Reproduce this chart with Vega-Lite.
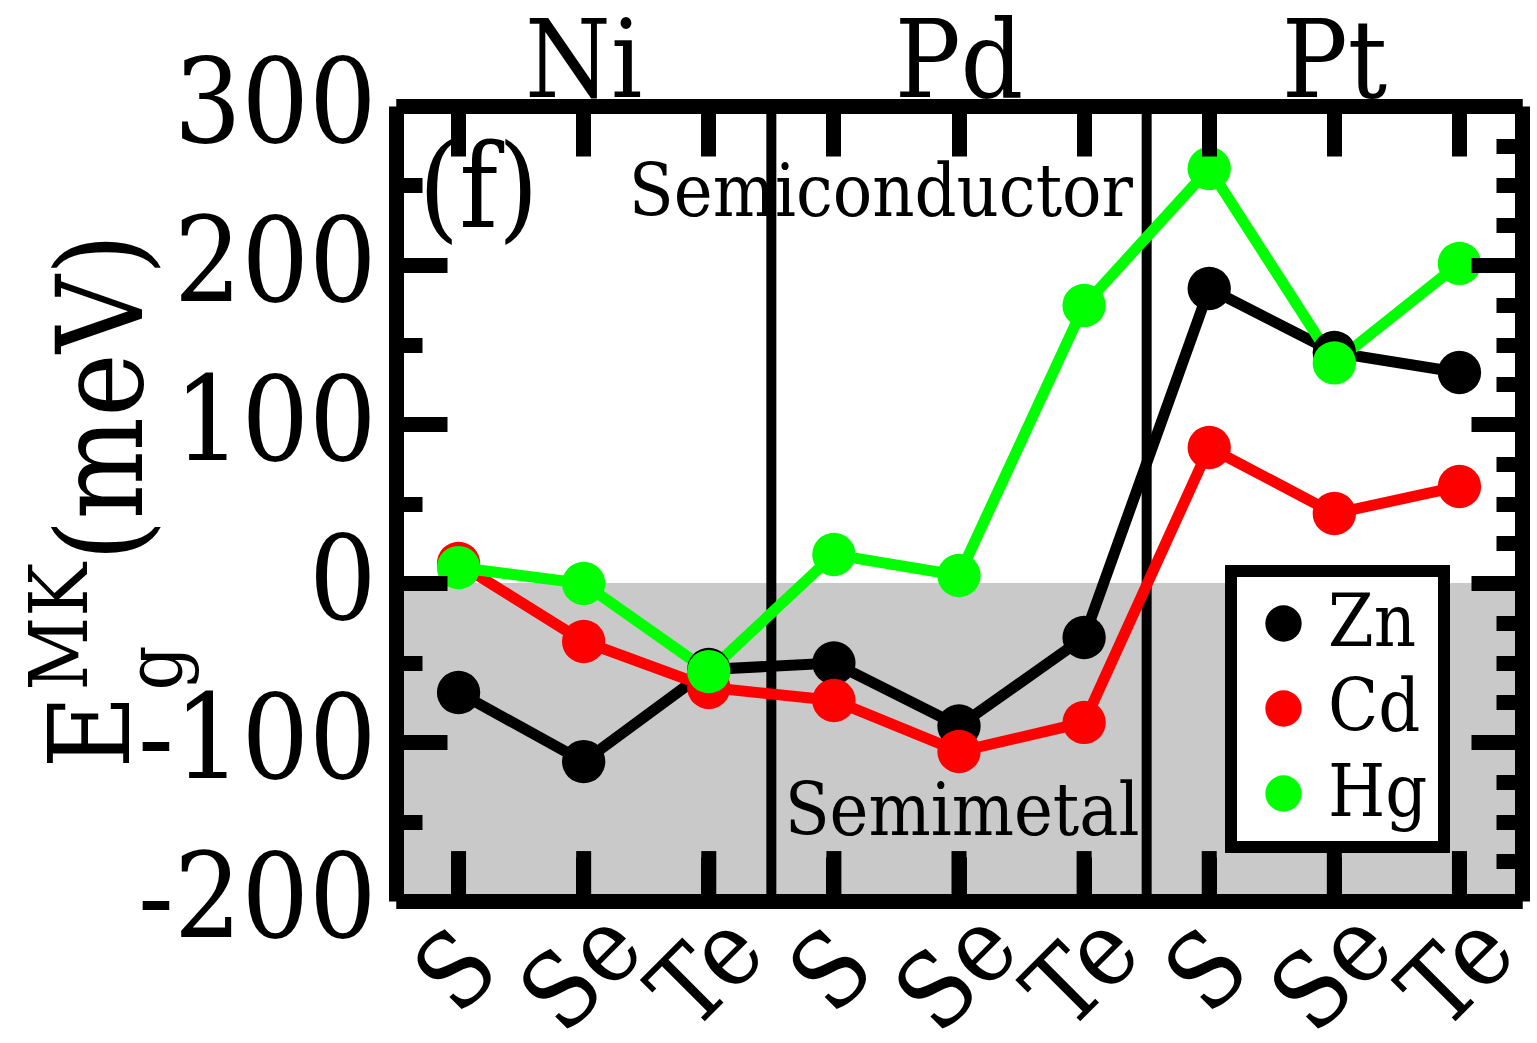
{
  "$schema": "https://vega.github.io/schema/vega-lite/v6.json",
  "width": 1126,
  "height": 795,
  "autosize": {"type": "none"},
  "padding": {"left": 396, "top": 106, "right": 15, "bottom": 142},
  "background": "white",
  "config": {
    "font": "DejaVu Serif Condensed",
    "view": {"stroke": null},
    "axis": {
      "domainColor": "black", "domainWidth": 15, "tickColor": "black", "tickWidth": 15,
      "labelColor": "black", "labelFont": "DejaVu Serif Condensed", "grid": false, "zindex": 1,
      "labelOverlap": false, "labelBound": false, "labelFlush": false, "labelLimit": 0
    },
    "text": {"font": "DejaVu Serif Condensed", "color": "black"}
  },
  "datasets": {
    "gaps": [
      {"compound": "NiS", "M": "Zn", "gap": -68.9},
      {"compound": "NiSe", "M": "Zn", "gap": -112.3},
      {"compound": "NiTe", "M": "Zn", "gap": -54.4},
      {"compound": "PdS", "M": "Zn", "gap": -50.3},
      {"compound": "PdSe", "M": "Zn", "gap": -89.9},
      {"compound": "PdTe", "M": "Zn", "gap": -34.3},
      {"compound": "PtS", "M": "Zn", "gap": 185.2},
      {"compound": "PtSe", "M": "Zn", "gap": 145},
      {"compound": "PtTe", "M": "Zn", "gap": 132.4},
      {"compound": "NiS", "M": "Cd", "gap": 12.3},
      {"compound": "NiSe", "M": "Cd", "gap": -36.8},
      {"compound": "NiTe", "M": "Cd", "gap": -65.7},
      {"compound": "PdS", "M": "Cd", "gap": -73.9},
      {"compound": "PdSe", "M": "Cd", "gap": -106},
      {"compound": "PdTe", "M": "Cd", "gap": -87.7},
      {"compound": "PtS", "M": "Cd", "gap": 85.2},
      {"compound": "PtSe", "M": "Cd", "gap": 43.7},
      {"compound": "PtTe", "M": "Cd", "gap": 60.7},
      {"compound": "NiS", "M": "Hg", "gap": 9.7},
      {"compound": "NiSe", "M": "Hg", "gap": -0.3},
      {"compound": "NiTe", "M": "Hg", "gap": -55.7},
      {"compound": "PdS", "M": "Hg", "gap": 17.9},
      {"compound": "PdSe", "M": "Hg", "gap": 4.7},
      {"compound": "PdTe", "M": "Hg", "gap": 174.5},
      {"compound": "PtS", "M": "Hg", "gap": 260.7},
      {"compound": "PtSe", "M": "Hg", "gap": 138.4},
      {"compound": "PtTe", "M": "Hg", "gap": 201}
    ]
  },
  "layer": [
    {
      "layer": [
        {
          "data": {"values": [{}]},
          "mark": {"type": "rect", "color": "#c9c9c9"},
          "encoding": {
            "x": {"value": 0},
            "x2": {"value": "width"},
            "y": {"datum": 0, "type": "quantitative", "scale": {"domain": [-200, 300], "nice": false, "zero": false}},
            "y2": {"datum": -200}
          }
        },
        {
          "data": {"name": "gaps"},
          "transform": [{"filter": "datum.M === 'Zn'"}],
          "mark": {"type": "rule", "color": "black", "strokeWidth": 15, "strokeCap": "butt"},
          "encoding": {
            "x": {"field": "compound", "type": "nominal", "axis": null, "scale": {"type": "band", "domain": ["NiS","NiSe","NiTe","PdS","PdSe","PdTe","PtS","PtSe","PtTe"], "paddingInner": 0, "paddingOuter": 0}},
            "y": {"datum": -200},
            "y2": {"datum": -168.6}
          }
        },
        {
          "data": {"values": [{}]},
          "mark": {"type": "rule", "color": "black", "strokeWidth": 10},
          "encoding": {
            "x": {"datum": "PdS", "bandPosition": 0, "axis": null},
            "y": {"value": 0},
            "y2": {"value": "height"}
          }
        },
        {
          "data": {"values": [{}]},
          "mark": {"type": "rule", "color": "black", "strokeWidth": 10},
          "encoding": {
            "x": {"datum": "PtS", "bandPosition": 0, "axis": null},
            "y": {"value": 0},
            "y2": {"value": "height"}
          }
        },
        {
          "data": {"name": "gaps"},
          "transform": [{"filter": "datum.M === 'Zn'"}],
          "mark": {"type": "line", "strokeWidth": 11, "color": "#000000"},
          "encoding": {
            "x": {"field": "compound", "type": "nominal", "axis": null},
            "y": {"field": "gap", "type": "quantitative", "scale": {"domain": [-200, 300], "nice": false, "zero": false},
              "axis": {"orient": "left", "title": null, "zindex": 1,
                "values": [-200,-175,-150,-125,-100,-75,-50,-25,0,25,50,75,100,125,150,175,200,225,250,275,300],
                "tickSize": {"condition": {"test": "datum.value % 100 === 0", "value": -51}, "value": -26},
                "labelExpr": "datum.value % 100 === 0 ? '' + datum.value : ''",
                "labelFontSize": 118, "labelPadding": 71, "labelBaseline": "middle", "labelLimit": 0}}
          }
        },
        {
          "data": {"name": "gaps"},
          "transform": [{"filter": "datum.M === 'Cd'"}],
          "mark": {"type": "line", "strokeWidth": 11, "color": "#ff0000"},
          "encoding": {
            "x": {"field": "compound", "type": "nominal", "axis": null},
            "y": {"field": "gap", "type": "quantitative"}
          }
        },
        {
          "data": {"name": "gaps"},
          "transform": [{"filter": "datum.M === 'Hg'"}],
          "mark": {"type": "line", "strokeWidth": 11, "color": "#00ff00"},
          "encoding": {
            "x": {"field": "compound", "type": "nominal", "axis": null},
            "y": {"field": "gap", "type": "quantitative"}
          }
        },
        {
          "data": {"name": "gaps"},
          "mark": {"type": "point", "filled": true, "shape": "circle", "size": 1880, "opacity": 1, "strokeWidth": 0},
          "encoding": {
            "x": {"field": "compound", "type": "nominal", "axis": null},
            "y": {"field": "gap", "type": "quantitative"},
            "color": {"field": "M", "type": "nominal", "sort": ["Zn", "Cd", "Hg"], "scale": {"domain": ["Zn", "Cd", "Hg"], "range": ["#000000", "#ff0000", "#00ff00"]},
              "legend": {"orient": "none", "legendX": 835, "legendY": 465, "padding": 16, "strokeColor": "black", "fillColor": "white",
                "labelFontSize": 73, "labelFont": "DejaVu Serif Condensed", "labelColor": "black", "symbolSize": 1320, "symbolType": "circle",
                "symbolStrokeWidth": 0, "symbolOpacity": 1, "rowPadding": 11, "labelOffset": 8, "symbolOffset": 0, "title": null, "zindex": 1,
                "encode": {"legend": {"update": {"strokeWidth": {"value": 12}}}}}}
          }
        },
        {
          "data": {"values": [{}]},
          "mark": {"type": "text", "text": "Semiconductor", "fontSize": 73, "align": "center", "baseline": "alphabetic", "dx": 47},
          "encoding": {"x": {"datum": "PdS", "axis": null}, "y": {"datum": 231}}
        },
        {
          "data": {"values": [{}]},
          "mark": {"type": "text", "text": "Semimetal", "fontSize": 73, "align": "center", "baseline": "alphabetic", "dx": 3},
          "encoding": {"x": {"datum": "PdSe", "axis": null}, "y": {"datum": -158.8}}
        },
        {
          "data": {"values": [{}]},
          "mark": {"type": "text", "text": "(f)", "fontSize": 116, "align": "left", "baseline": "alphabetic", "dx": -40},
          "encoding": {"x": {"datum": "NiS", "axis": null}, "y": {"datum": 224}}
        },
        {
          "data": {"values": [{}]},
          "mark": {"type": "text", "text": "E", "fontSize": 112, "angle": 270, "align": "left", "baseline": "alphabetic", "dy": -329.5},
          "encoding": {"x": {"datum": "NiS", "axis": null}, "y": {"datum": -116.7}}
        },
        {
          "data": {"values": [{}]},
          "mark": {"type": "text", "text": "g", "fontSize": 78, "angle": 270, "align": "left", "baseline": "alphabetic", "dy": -276.5},
          "encoding": {"x": {"datum": "NiS", "axis": null}, "y": {"datum": -67.6}}
        },
        {
          "data": {"values": [{}]},
          "mark": {"type": "text", "text": "MK", "fontSize": 80, "angle": 270, "align": "left", "baseline": "alphabetic", "dy": -371.5},
          "encoding": {"x": {"datum": "NiS", "axis": null}, "y": {"datum": -67.6}}
        },
        {
          "data": {"values": [{}]},
          "mark": {"type": "text", "text": "(meV)", "fontSize": 120, "angle": 270, "align": "left", "baseline": "alphabetic", "dy": -317},
          "encoding": {"x": {"datum": "NiS", "axis": null}, "y": {"datum": 13.5}}
        }
      ]
    },
    {
      "data": {"name": "gaps"},
      "mark": {"type": "point", "opacity": 0},
      "encoding": {
        "x": {"field": "compound", "type": "nominal", "scale": {"type": "band", "domain": ["NiS","NiSe","NiTe","PdS","PdSe","PdTe","PtS","PtSe","PtTe"], "paddingInner": 0, "paddingOuter": 0},
          "axis": {"orient": "top", "title": null, "zindex": 1, "tickSize": -50,
            "labelExpr": "datum.value == 'NiSe' ? 'Ni' : datum.value == 'PdSe' ? 'Pd' : datum.value == 'PtSe' ? 'Pt' : ''",
            "labelFontSize": 109, "labelPadding": 60, "labelBaseline": "alphabetic", "labelAngle": 0}},
        "y": {"field": "gap", "type": "quantitative", "scale": {"domain": [-200, 300], "nice": false, "zero": false},
          "axis": {"orient": "right", "title": null, "zindex": 1,
            "values": [-200,-175,-150,-125,-100,-75,-50,-25,0,25,50,75,100,125,150,175,200,225,250,275,300],
            "tickSize": {"condition": {"test": "datum.value % 100 === 0", "value": -51}, "value": -26},
            "labels": false}}
      }
    },
    {
      "data": {"name": "gaps"},
      "mark": {"type": "point", "opacity": 0},
      "encoding": {
        "x": {"field": "compound", "type": "nominal", "scale": {"type": "band", "domain": ["NiS","NiSe","NiTe","PdS","PdSe","PdTe","PtS","PtSe","PtTe"], "paddingInner": 0, "paddingOuter": 0},
          "axis": {"orient": "bottom", "title": null, "zindex": 1, "tickSize": -44, "labelExpr": "slice(datum.label, 2)", "labelAngle": -45, "labelAlign": "center", "labelBaseline": "middle", "labelFontSize": 103, "labelPadding": 116}},
        "y": {"field": "gap", "type": "quantitative", "scale": {"domain": [-200, 300], "nice": false, "zero": false}, "axis": null}
      }
    }
  ],
  "resolve": {"scale": {"x": "independent", "y": "independent"}}
}
